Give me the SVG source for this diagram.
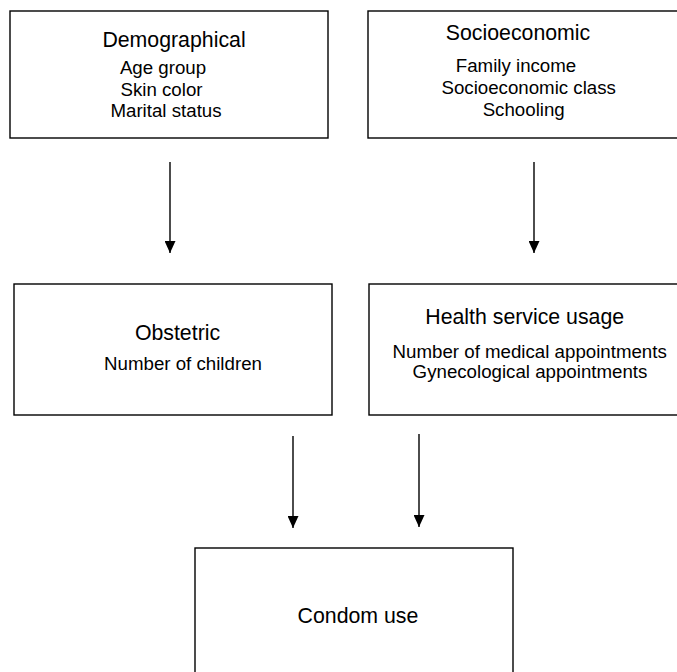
<svg xmlns="http://www.w3.org/2000/svg" width="677" height="672" viewBox="0 0 677 672">
<defs>
<marker id="ah" markerWidth="12" markerHeight="11" refX="12" refY="5.5" orient="auto" markerUnits="userSpaceOnUse">
<path d="M0,0 L12,5.5 L0,11 Z" fill="#000"/>
</marker>
<style>
.box{fill:#fff;stroke:#000;stroke-width:1.4}
.t{font-family:"Liberation Sans",Arial,sans-serif;font-size:21.3px;fill:#000;text-anchor:middle}
.s{font-family:"Liberation Sans",Arial,sans-serif;font-size:18.7px;fill:#000;text-anchor:middle}
.c{stroke:#000;stroke-width:1.4;fill:none;marker-end:url(#ah)}
</style>
</defs>
<rect width="677" height="672" fill="#fff"/>
<g id="demographical">
<rect class="box" x="10" y="11" width="318" height="127"/>
<text class="t" x="174" y="47">Demographical</text>
<text class="s" x="163" y="74">Age group</text>
<text class="s" x="161.5" y="95.5">Skin color</text>
<text class="s" x="166" y="116.5">Marital status</text>
</g>
<g id="socioeconomic">
<rect class="box" x="368" y="11" width="318" height="127"/>
<text class="t" x="518" y="40">Socioeconomic</text>
<text class="s" x="516" y="71.5">Family income</text>
<text class="s" x="528.7" y="94.3">Socioeconomic class</text>
<text class="s" x="523.7" y="115.7">Schooling</text>
</g>
<g id="obstetric">
<rect class="box" x="14" y="284" width="318" height="131"/>
<text class="t" x="177.5" y="340">Obstetric</text>
<text class="s" x="183" y="370">Number of children</text>
</g>
<g id="health">
<rect class="box" x="369" y="284" width="318" height="131"/>
<text class="t" x="524.7" y="324.3">Health service usage</text>
<text class="s" x="529.7" y="358.3">Number of medical appointments</text>
<text class="s" x="530" y="377.5">Gynecological appointments</text>
</g>
<g id="condom">
<rect class="box" x="195" y="548" width="318" height="127"/>
<text class="t" x="358" y="622.7">Condom use</text>
</g>
<g id="connectors">
<line class="c" x1="170" y1="162" x2="170" y2="253"/>
<line class="c" x1="534" y1="162" x2="534" y2="253"/>
<line class="c" x1="293" y1="436" x2="293" y2="528"/>
<line class="c" x1="419" y1="434" x2="419" y2="527"/>
</g>
</svg>
